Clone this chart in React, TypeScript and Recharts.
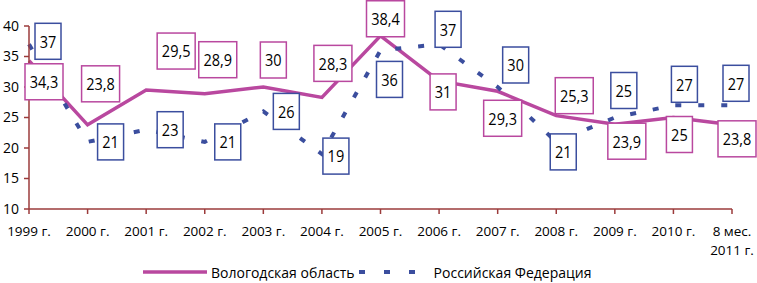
import React from 'react';
import { LineChart, Line, XAxis, YAxis, Legend } from 'recharts';

const categories = ['1999 г.', '2000 г.', '2001 г.', '2002 г.', '2003 г.', '2004 г.', '2005 г.', '2006 г.', '2007 г.', '2008 г.', '2009 г.', '2010 г.', '8 мес.\n2011 г.'];
const vologda = [34.3, 23.8, 29.5, 28.9, 30, 28.3, 38.4, 31, 29.3, 25.3, 23.9, 25, 23.8];
const russia = [37, 21, 23, 21, 26, 19, 36, 37, 30, 21, 25, 27, 27];
const yTicks = [10, 15, 20, 25, 30, 35, 40];

const seriesNames = { vologda: 'Вологодская область', russia: 'Российская Федерация' };

// label box placement relative to each point (style, not data)
const vologdaLabelShift = [[15, 21], [13, -41], [30, -39], [13, -34], [10, -27], [11, -34], [5, -17], [4, 11], [5, 27], [18, -20], [12, 17], [6, 17], [5, 14]];
const russiaLabelShift = [[19, -3], [23, 0], [24, 0], [23, 0], [23, 0], [14, 2], [9, 29], [9, -15], [18, -22], [7, 10], [9, -27], [11, -21], [4, -22]];

const data = categories.map((c, i) => ({ name: c, vologda: vologda[i], russia: russia[i] }));

const PINK = '#B9489F';
const BLUE = '#3B4E9E';
const AXIS = '#9B3B3B';
const FONT = '"Open Sans", "Noto Sans", sans-serif';

const fmt = (v: number) => String(v).replace('.', ',');

const makeBoxDot = (shifts: number[][], color: string) => (props: any) => {
  const { cx, cy, index, value } = props;
  if (cx == null || cy == null) return <g key={index} />;
  const v = Array.isArray(value) ? value[1] : value;
  const text = fmt(v);
  const w = text.length > 2 ? 38 : 26;
  const h = 36;
  const [dx, dy] = shifts[index] || [0, 0];
  const bx = cx + dx;
  const by = cy + dy;
  return (
    <g key={index}>
      <rect x={bx - w / 2} y={by - h / 2} width={w} height={h} fill="#fff" stroke={color} strokeWidth={1.5} />
      <text
        x={bx}
        y={by}
        textAnchor="middle"
        dominantBaseline="central"
        fontSize={14.5}
        fontFamily={FONT}
        fill="#000"
        transform={`translate(0 ${by}) scale(1 1.15) translate(0 ${-by})`}
      >
        {text}
      </text>
    </g>
  );
};

const XTick = (props: any) => {
  const { x, y, payload } = props;
  const lines = String(payload.value).split('\n');
  return (
    <text x={x} y={y} textAnchor="middle" fontSize={13.5} fontFamily={FONT} fill="#000">
      {lines.map((l, i) => (
        <tspan key={i} x={x} dy={i === 0 ? '0.71em' : '1.45em'}>{l}</tspan>
      ))}
    </text>
  );
};

const LegendContent = () => (
  <div style={{ display: 'flex', alignItems: 'center', paddingLeft: 143, fontFamily: FONT, fontSize: 14, color: '#000', height: 20 }}>
    <svg width={64} height={10} style={{ display: 'block' }}>
      <line x1={0} y1={5} x2={64} y2={5} stroke={PINK} strokeWidth={3.5} />
    </svg>
    <span style={{ marginLeft: 4 }}>{seriesNames.vologda}</span>
    <svg width={56} height={10} style={{ display: 'block', marginLeft: 4 }}>
      <line x1={0} y1={5} x2={56} y2={5} stroke={BLUE} strokeWidth={4} strokeDasharray="6 19" />
    </svg>
    <span style={{ marginLeft: 19 }}>{seriesNames.russia}</span>
  </div>
);

export default function App() {
  return (
    <div style={{ position: 'absolute', left: 0, top: 0, background: '#fff' }}>
      <LineChart width={757} height={283} data={data} margin={{ top: 26, right: 25, left: 0, bottom: 0 }}>
        <XAxis
          dataKey="name"
          height={74}
          interval={0}
          tick={<XTick />}
          tickSize={5}
          tickMargin={12}
          axisLine={{ stroke: AXIS, strokeWidth: 1.5 }}
          tickLine={{ stroke: AXIS, strokeWidth: 1.5 }}
        />
        <YAxis
          width={29}
          domain={[10, 40]}
          ticks={yTicks}
          interval={0}
          tickSize={5}
          tickMargin={5}
          tick={{ fontSize: 14, fontFamily: FONT, fill: '#000' }}
          axisLine={{ stroke: AXIS, strokeWidth: 1.5 }}
          tickLine={{ stroke: AXIS, strokeWidth: 1.5 }}
        />
        <Legend
          verticalAlign="middle"
          align="center"
          layout="horizontal"
          content={<LegendContent />}
          wrapperStyle={{ top: 262, left: 0, width: 757 }}
        />
        <Line dataKey="vologda" name={seriesNames.vologda} stroke={PINK} strokeWidth={3.5} dot={false} activeDot={false} isAnimationActive={false} />
        <Line dataKey="russia" name={seriesNames.russia} stroke={BLUE} strokeWidth={4} strokeDasharray="6 17" dot={false} activeDot={false} isAnimationActive={false} />
        <Line dataKey="vologda" stroke="none" legendType="none" dot={makeBoxDot(vologdaLabelShift, PINK)} activeDot={false} isAnimationActive={false} />
        <Line dataKey="russia" stroke="none" legendType="none" dot={makeBoxDot(russiaLabelShift, BLUE)} activeDot={false} isAnimationActive={false} />
      </LineChart>
    </div>
  );
}
